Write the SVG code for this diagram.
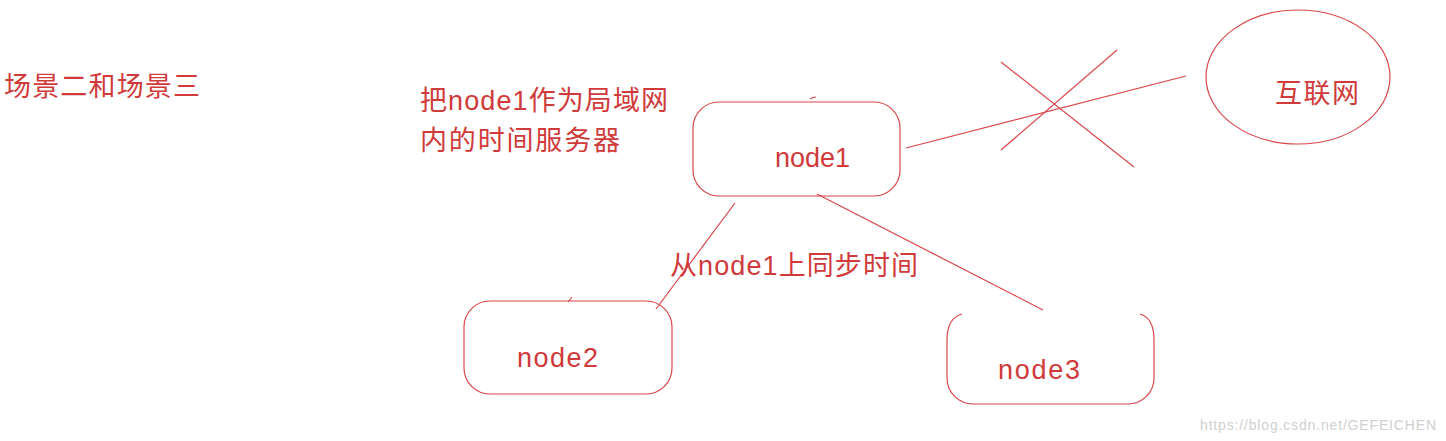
<svg xmlns="http://www.w3.org/2000/svg" width="1446" height="441" viewBox="0 0 1446 441">
<style>
.t{font-family:"Liberation Sans","Noto Sans CJK SC",sans-serif;fill:#d03a3a;font-size:27px}
.s{fill:none;stroke:#d9464a;stroke-width:1.2}
.w{font-family:"Liberation Sans",sans-serif;fill:#d0d0d0;font-size:14px}
</style>
<rect width="1446" height="441" fill="#ffffff"/>
<g id="connectors">
<line class="s" x1="906" y1="148" x2="1186" y2="76"/>
<line class="s" x1="1001" y1="62" x2="1134" y2="167"/>
<line class="s" x1="1117" y1="50" x2="1001" y2="150"/>
<line class="s" x1="735" y1="203" x2="656" y2="309"/>
<line class="s" x1="817" y1="194" x2="1043" y2="310"/>
<path class="s" d="M810 99 Q813 97 816 97"/>
<path class="s" d="M568 302 L572 297"/>
</g>
<g id="title"><text class="t" x="4" y="96" textLength="196">场景二和场景三</text></g>
<g id="note1"><text class="t" x="420" y="110" textLength="248">把node1作为局域网</text><text class="t" x="420" y="150" textLength="200">内的时间服务器</text></g>
<g id="note2"><text class="t" x="670" y="275" textLength="248">从node1上同步时间</text></g>
<g id="node1"><rect class="s" x="693" y="102" width="207" height="94" rx="26"/><text class="t" x="775" y="167" textLength="75">node1</text></g>
<g id="node2"><rect class="s" x="464" y="301" width="208" height="93" rx="26"/><text class="t" x="517" y="367" textLength="81">node2</text></g>
<g id="node3"><path class="s" d="M962 314 Q947 318 947 340 L947 378 A26 26 0 0 0 973 404 L1128 404 A26 26 0 0 0 1154 378 L1154 340 Q1154 318 1140 314"/><text class="t" x="998" y="379" textLength="82">node3</text></g>
<g id="internet"><ellipse class="s" cx="1298" cy="77" rx="92" ry="67"/><text class="t" x="1275" y="103" textLength="84">互联网</text></g>
<g id="watermark"><text class="w" x="1200" y="430" textLength="236">https://blog.csdn.net/GEFEICHEN</text></g>
</svg>
